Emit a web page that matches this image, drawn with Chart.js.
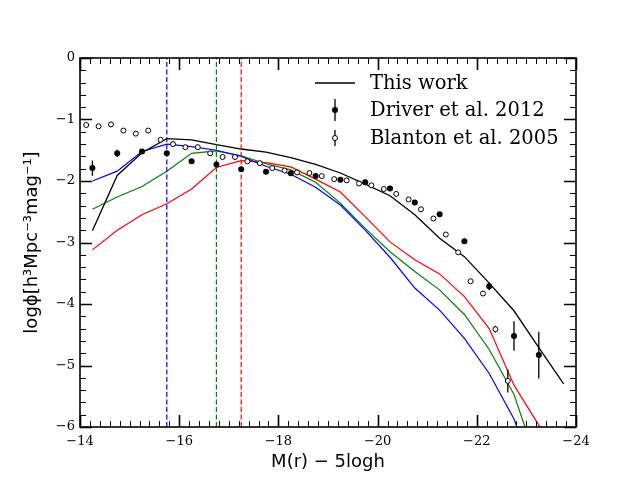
<!DOCTYPE html>
<html>
<head>
<meta charset="utf-8">
<script src="https://cdn.jsdelivr.net/npm/chart.js@4/dist/chart.umd.min.js"></script>
<style>
  html, body { margin: 0; padding: 0; background: #fff; }
</style>
</head>
<body>
<canvas id="lf" width="640" height="480"></canvas>
<script>
    // model luminosity functions, bins of 0.5 mag
    var modelMags = [-14.25, -14.75, -15.25, -15.75, -16.25, -16.75, -17.25, -17.75, -18.25, -18.75,
                     -19.25, -19.75, -20.25, -20.75, -21.25, -21.75, -22.25, -22.75, -23.25, -23.75];
    var thisWork  = [-2.81, -1.91, -1.54, -1.31, -1.33, -1.41, -1.48, -1.53, -1.62, -1.73,
                     -1.87, -2.05, -2.24, -2.55, -2.93, -3.23, -3.66, -4.11, -4.71, -5.30];
    var blueModel  = [-2.00, -1.84, -1.52, -1.40, -1.44, -1.50, -1.60, -1.76, -1.89, -2.10,
                      -2.39, -2.80, -3.24, -3.74, -4.10, -4.56, -5.13, -5.87, -7.00];
    var greenModel = [-2.46, -2.26, -2.09, -1.84, -1.55, -1.51, -1.59, -1.72, -1.82, -2.02,
                      -2.36, -2.77, -3.15, -3.47, -3.77, -4.17, -4.74, -5.47, -6.67];
    var redModel   = [-3.12, -2.80, -2.55, -2.37, -2.13, -1.78, -1.67, -1.70, -1.77, -1.97,
                      -2.18, -2.58, -2.99, -3.28, -3.51, -3.88, -4.40, -5.32, -5.97, -6.70];

    // Driver et al. 2012
    var driverMags = [-14.25, -14.75, -15.25, -15.75, -16.25, -16.75, -17.25, -17.75, -18.25, -18.75,
                      -19.25, -19.75, -20.25, -20.75, -21.25, -21.75, -22.25, -22.75, -23.25];
    var driverPhi  = [-1.79, -1.55, -1.52, -1.55, -1.68, -1.73, -1.81, -1.85, -1.875, -1.92,
                      -1.98, -2.02, -2.12, -2.35, -2.54, -2.98, -3.71, -4.52, -4.83];
    var driverErr  = [0.125, 0.06, 0.03, 0.02, 0.02, 0.02, 0.02, 0.02, 0.02, 0.02,
                      0.02, 0.02, 0.02, 0.02, 0.03, 0.04, 0.065, 0.24, 0.38];

    // Blanton et al. 2005
    var blantonMags = [-14.125, -14.375, -14.625, -14.875, -15.125, -15.375, -15.625, -15.875, -16.125,
                       -16.375, -16.625, -16.875, -17.125, -17.375, -17.625, -17.875, -18.125, -18.375,
                       -18.625, -18.875, -19.125, -19.375, -19.625, -19.875, -20.125, -20.375, -20.625,
                       -20.875, -21.125, -21.375, -21.625, -21.875, -22.125, -22.375, -22.625];
    var blantonPhi  = [-1.09, -1.11, -1.08, -1.18, -1.23, -1.18, -1.33, -1.40, -1.45,
                       -1.45, -1.55, -1.61, -1.61, -1.68, -1.71, -1.79, -1.83, -1.86,
                       -1.87, -1.92, -1.97, -1.99, -2.04, -2.07, -2.13, -2.21, -2.30,
                       -2.46, -2.61, -2.87, -3.16, -3.63, -3.83, -4.41, -5.25];
    var blantonErr  = [0.02, 0.02, 0.02, 0.02, 0.02, 0.02, 0.02, 0.02, 0.02,
                       0.02, 0.02, 0.02, 0.02, 0.02, 0.02, 0.02, 0.02, 0.02,
                       0.02, 0.02, 0.02, 0.02, 0.02, 0.02, 0.02, 0.02, 0.02,
                       0.02, 0.02, 0.02, 0.02, 0.03, 0.03, 0.055, 0.19];

    // completeness limits (dashed verticals)
    var limitMags = [-15.75, -16.75, -17.25];

    var xTicks = [-14, -16, -18, -20, -22, -24];
    var yTicks = [0, -1, -2, -3, -4, -5, -6];
    var legendLabels = ['This work', 'Driver et al. 2012', 'Blanton et al. 2005'];

function pts(xs, ys) {
    var out = [];
    for (var i = 0; i < ys.length; i++) out.push({x: xs[i], y: ys[i]});
    return out;
}

function minusFmt(v) {
    return v < 0 ? '\u2212' + Math.abs(v) : String(v);
}

function modelLine(data, col, lw) {
    return {
        data: pts(modelMags, data), showLine: true, borderColor: col, borderWidth: lw,
        pointRadius: 0, fill: false, order: 3
    };
}

function limitLine(mag, col) {
    return {
        data: [{x: mag, y: -6}, {x: mag, y: 0}], showLine: true, borderColor: col,
        borderWidth: 1.2, borderDash: [5, 2.5], pointRadius: 0, order: 2
    };
}

var errorBars = {
    id: 'errorBars',
    beforeDatasetDraw: function(chart, args) {
        var ds = chart.data.datasets[args.index];
        if (!ds.errors) return;
        var ctx = chart.ctx, a = chart.chartArea;
        var xs = chart.scales.x, ys = chart.scales.y;
        ctx.save();
        ctx.beginPath();
        ctx.rect(a.left, a.top, a.right - a.left, a.bottom - a.top);
        ctx.clip();
        ctx.strokeStyle = '#000';
        ctx.lineWidth = 1.3;
        ctx.beginPath();
        for (var i = 0; i < ds.data.length; i++) {
            var px = xs.getPixelForValue(ds.data[i].x);
            ctx.moveTo(px, ys.getPixelForValue(ds.data[i].y - ds.errors[i]));
            ctx.lineTo(px, ys.getPixelForValue(ds.data[i].y + ds.errors[i]));
        }
        ctx.stroke();
        ctx.restore();
    }
};

var frameTicks = {
    id: 'frameTicks',
    afterDraw: function(chart) {
        var ctx = chart.ctx, a = chart.chartArea;
        var xs = chart.scales.x, ys = chart.scales.y;
        ctx.save();
        ctx.strokeStyle = '#000';
        var i, v, p, len;
        for (i = 0; i <= 50; i++) {
            v = -14 - i * 0.2;
            p = Math.round(xs.getPixelForValue(v)) + 0.5;
            len = (i % 10 === 0) ? 12 : 6;
            ctx.lineWidth = (i % 10 === 0) ? 1.6 : 1;
            ctx.beginPath();
            ctx.moveTo(p, a.bottom); ctx.lineTo(p, a.bottom - len);
            ctx.moveTo(p, a.top); ctx.lineTo(p, a.top + len);
            ctx.stroke();
        }
        for (i = 0; i <= 30; i++) {
            v = -6 + i * 0.2;
            p = Math.round(ys.getPixelForValue(v)) + 0.5;
            len = (i % 5 === 0) ? 12 : 6;
            ctx.lineWidth = (i % 5 === 0) ? 1.6 : 1;
            ctx.beginPath();
            ctx.moveTo(a.left, p); ctx.lineTo(a.left + len, p);
            ctx.moveTo(a.right, p); ctx.lineTo(a.right - len, p);
            ctx.stroke();
        }
        ctx.lineWidth = 1.6;
        ctx.strokeRect(a.left, a.top, a.right - a.left, a.bottom - a.top);

        // legend
        var lx = a.left + 255, ty = [a.top + 25, a.top + 52, a.top + 80];
        ctx.lineWidth = 1.3;
        ctx.beginPath();
        ctx.moveTo(a.left + 235, ty[0]); ctx.lineTo(a.left + 275, ty[0]);
        ctx.moveTo(lx, ty[1] - 11); ctx.lineTo(lx, ty[1] + 11);
        ctx.moveTo(lx, ty[2] - 8); ctx.lineTo(lx, ty[2] + 8);
        ctx.stroke();
        ctx.fillStyle = '#000';
        ctx.beginPath(); ctx.arc(lx, ty[1], 3, 0, Math.PI * 2); ctx.fill();
        ctx.fillStyle = '#fff';
        ctx.lineWidth = 1;
        ctx.beginPath(); ctx.arc(lx, ty[2], 2.5, 0, Math.PI * 2); ctx.fill(); ctx.stroke();
        ctx.fillStyle = '#000';
        ctx.font = "19.5px 'DejaVu Serif'";
        ctx.textBaseline = 'middle';
        ctx.textAlign = 'left';
        for (i = 0; i < legendLabels.length; i++) {
            ctx.fillText(legendLabels[i], a.left + 290, ty[i] + 1);
        }
        ctx.restore();
    }
};

window.onload = function() {
    var ctx = document.getElementById('lf').getContext('2d');
    window.lfChart = new Chart(ctx, {
        type: 'scatter',
        data: {
            datasets: [
                modelLine(thisWork, '#000000', 1.3),
                modelLine(blueModel, '#0000ff', 1.2),
                modelLine(greenModel, '#008000', 1.2),
                modelLine(redModel, '#ff0000', 1.2),
                limitLine(limitMags[0], '#0000ff'),
                limitLine(limitMags[1], '#008000'),
                limitLine(limitMags[2], '#ff0000'),
                {
                    data: pts(blantonMags, blantonPhi), errors: blantonErr,
                    pointRadius: 2.5, pointBackgroundColor: '#ffffff', pointBorderColor: '#000000',
                    pointBorderWidth: 1, order: 1
                },
                {
                    data: pts(driverMags, driverPhi), errors: driverErr,
                    pointRadius: 3, pointBackgroundColor: '#000000', pointBorderColor: '#000000',
                    pointBorderWidth: 0, order: 0
                }
            ]
        },
        options: {
            responsive: false,
            animation: false,
            layout: { padding: { top: 58, right: 64, left: 0, bottom: 0 } },
            plugins: { legend: { display: false }, tooltip: { enabled: false } },
            scales: {
                x: {
                    type: 'linear', min: -24, max: -14, reverse: true,
                    grid: { display: false, drawTicks: false },
                    border: { display: false },
                    afterBuildTicks: function(s) { s.ticks = xTicks.map(function(v) { return {value: v}; }); },
                    afterFit: function(s) { s.height = 53; },
                    ticks: {
                        padding: 7, color: '#000', maxRotation: 0,
                        font: { family: 'DejaVu Serif', size: 13 },
                        callback: minusFmt
                    },
                    title: {
                        display: true, text: 'M(r) \u2212 5logh', color: '#000',
                        font: { family: 'DejaVu Sans', size: 18 },
                        padding: { top: 0, bottom: 7 }
                    }
                },
                y: {
                    type: 'linear', min: -6, max: 0,
                    grid: { display: false, drawTicks: false },
                    border: { display: false },
                    afterBuildTicks: function(s) { s.ticks = yTicks.map(function(v) { return {value: v}; }); },
                    afterFit: function(s) { s.width = 80; },
                    ticks: {
                        padding: 5, color: '#000',
                        font: { family: 'DejaVu Serif', size: 13 },
                        callback: minusFmt
                    },
                    title: {
                        display: true, text: 'log\u03d5[h\u00b3Mpc\u207b\u00b3mag\u207b\u00b9]', color: '#000',
                        font: { family: 'DejaVu Sans', size: 18 },
                        padding: { top: 22, bottom: 0 }
                    }
                }
            }
        },
        plugins: [errorBars, frameTicks]
    });
};
</script>
</body>
</html>
